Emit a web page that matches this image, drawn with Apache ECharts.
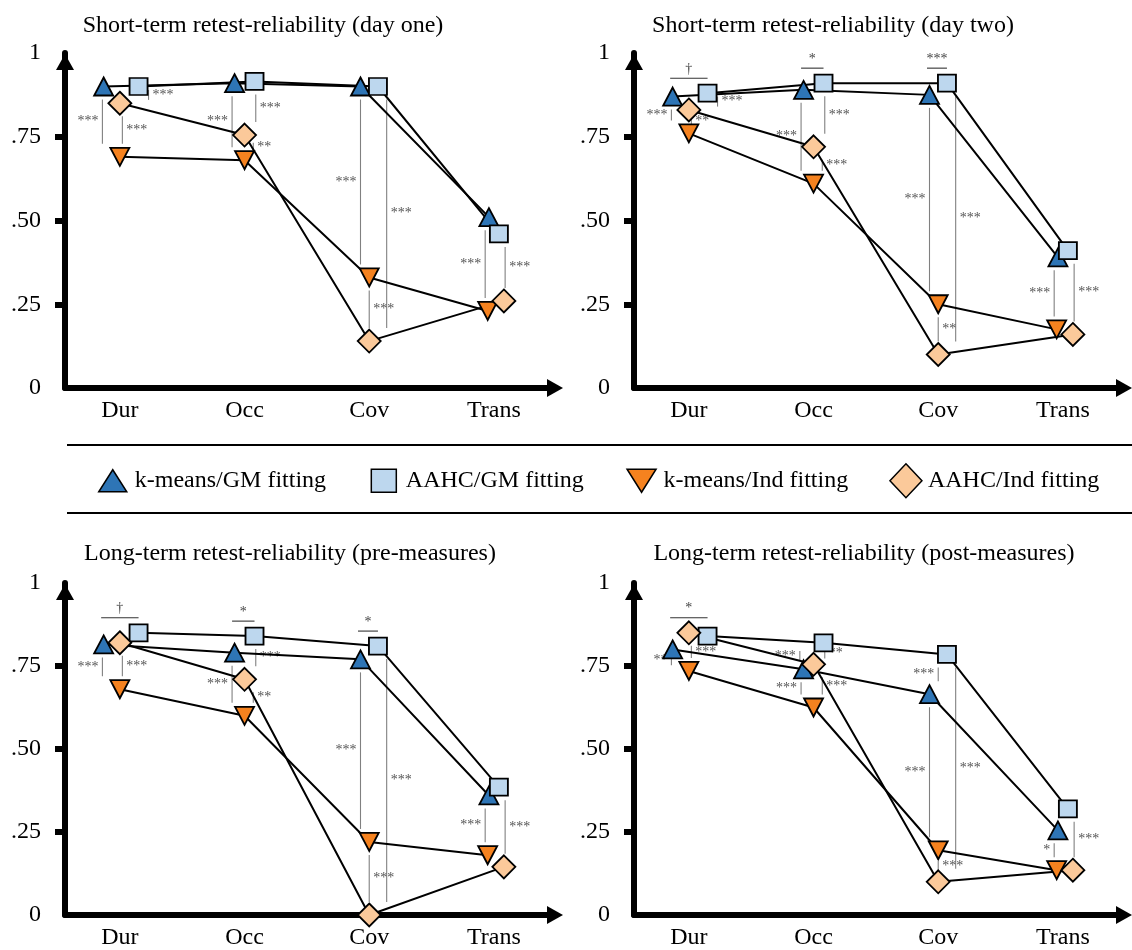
<!DOCTYPE html>
<html>
<head>
<meta charset="utf-8">
<script src="https://cdn.jsdelivr.net/npm/echarts@6/dist/echarts.min.js"></script>
<style>
  html, body { margin: 0; padding: 0; background: #fff; }
  #main { width: 1132px; height: 950px; }
</style>
</head>
<body>
<div id="main"></div>
<script>
// ---- data ----
const categories = ['Dur', 'Occ', 'Cov', 'Trans'];
const seriesNames = ['k-means/GM fitting', 'AAHC/GM fitting', 'k-means/Ind fitting', 'AAHC/Ind fitting'];
const yTickLabels = { 0: '0', 0.25: '.25', 0.5: '.50', 0.75: '.75', 1: '1' };
const panelTitles = [
  'Short-term retest-reliability (day one)',
  'Short-term retest-reliability (day two)',
  'Long-term retest-reliability (pre-measures)',
  'Long-term retest-reliability (post-measures)'
];

// short-term, day one
const dayOneKmGM = [0.90, 0.91, 0.90, 0.51];
const dayOneAaGM = [0.90, 0.915, 0.90, 0.46];
const dayOneKmInd = [0.69, 0.68, 0.33, 0.23];
const dayOneAaInd = [0.85, 0.755, 0.14, 0.26];
// short-term, day two
const dayTwoKmGM = [0.87, 0.89, 0.875, 0.39];
const dayTwoAaGM = [0.88, 0.91, 0.91, 0.41];
const dayTwoKmInd = [0.76, 0.61, 0.25, 0.175];
const dayTwoAaInd = [0.83, 0.72, 0.10, 0.16];
// long-term, pre-measures
const preKmGM = [0.815, 0.79, 0.77, 0.36];
const preAaGM = [0.85, 0.84, 0.81, 0.385];
const preKmInd = [0.68, 0.60, 0.22, 0.18];
const preAaInd = [0.82, 0.71, 0.0, 0.145];
// long-term, post-measures
const postKmGM = [0.80, 0.74, 0.665, 0.255];
const postAaGM = [0.84, 0.82, 0.785, 0.32];
const postKmInd = [0.735, 0.625, 0.195, 0.135];
const postAaInd = [0.85, 0.755, 0.10, 0.135];

// significance marks: [category, compared pair, label]
// kk = k-means GM vs Ind, aa = AAHC GM vs Ind, ii = k-means/Ind vs AAHC/Ind, gg/gv = k-means/GM vs AAHC/GM
const dayOneSig = [[0, 'kk', '***'], [0, 'ii', '***'], [0, 'aa', '***'], [1, 'kk', '***'], [1, 'aa', '***'], [1, 'ii', '**'],
  [2, 'kk', '***'], [2, 'aa', '***'], [2, 'ii', '***'], [3, 'kk', '***'], [3, 'aa', '***']];
const dayTwoSig = [[0, 'gg', '\u2020'], [0, 'kk', '***'], [0, 'ii', '**'], [0, 'aa', '***'], [1, 'gg', '*'], [1, 'kk', '***'], [1, 'aa', '***'], [1, 'ii', '***'],
  [2, 'gg', '***'], [2, 'kk', '***'], [2, 'aa', '***'], [2, 'ii', '**'], [3, 'kk', '***'], [3, 'aa', '***']];
const preSig = [[0, 'gg', '\u2020'], [0, 'kk', '***'], [0, 'ii', '***'], [1, 'gg', '*'], [1, 'kk', '***'], [1, 'aa', '***'], [1, 'ii', '**'],
  [2, 'gg', '*'], [2, 'kk', '***'], [2, 'aa', '***'], [2, 'ii', '***'], [3, 'kk', '***'], [3, 'aa', '***']];
const postSig = [[0, 'gg', '*'], [0, 'kk', '**'], [0, 'ii', '***'], [1, 'gv', '***'], [1, 'aa', '**'], [1, 'kk', '***'], [1, 'ii', '***'],
  [2, 'gv', '***'], [2, 'kk', '***'], [2, 'aa', '***'], [2, 'ii', '***'], [3, 'kk', '*'], [3, 'aa', '***']];

// ---- styling ----
const FONT = 'Liberation Serif';
const colors = ['#2e75b6', '#bdd7ee', '#f5821f', '#fbc99a'];
const symbols = ['triangle', 'rect', 'triangle', 'diamond'];
const symbolRotate = [0, 0, 180, 0];
const symbolSizes = [[19, 18], [18, 17], [19, 18], [23, 23]];
// horizontal nudge of each series inside a category (per category)
const dodge = [
  [-0.13, 0.15, 0, 0],
  [-0.08, 0.08, 0, 0],
  [-0.07, 0.07, 0, 0],
  [-0.04, 0.04, -0.05, 0.08]
];
const pairs = { kk: [0, 2], aa: [1, 3], ii: [2, 3], gg: [0, 1], gv: [0, 1] };
const pairPlace = {
  kk: { dx: [-0.14, -0.10, -0.07, -0.07], side: 'left' },
  aa: { dx: [0.23, 0.09, 0.14, 0.09], side: 'right' },
  ii: { dx: [0.02, 0.07, 0.0, 0.0], side: 'right' },
  gv: { dx: [-0.11, -0.11, 0.0, 0.0], side: 'left' }
};
const legendIcons = [
  'path://M0,0M34,34M17,6L31,28L3,28Z',
  'path://M0,0M34,34M4.5,5.5L29.5,5.5L29.5,28.5L4.5,28.5Z',
  'path://M0,0M34,34M2.5,5.5L31.5,5.5L17,28.5Z',
  'path://M0,0M34,34M17,0L33,17L17,34L1,17Z'
];

const panels = [
  { values: [dayOneKmGM, dayOneAaGM, dayOneKmInd, dayOneAaInd], sig: dayOneSig },
  { values: [dayTwoKmGM, dayTwoAaGM, dayTwoKmInd, dayTwoAaInd], sig: dayTwoSig },
  { values: [preKmGM, preAaGM, preKmInd, preAaInd], sig: preSig },
  { values: [postKmGM, postAaGM, postKmInd, postAaInd], sig: postSig }
];
const gridPos = [[65, 53], [634, 53], [65, 583], [634, 583]];
const titlePos = [[263, 14], [833, 14], [290, 542], [864, 542]];

function sigSeries(panel, pi) {
  const items = panel.sig.map(function (s) {
    const c = s[0], ab = pairs[s[1]];
    const allTop = Math.max.apply(null, panel.values.map(function (v) { return v[c]; }));
    return { cat: c, pair: s[1], label: s[2], va: panel.values[ab[0]][c], vb: panel.values[ab[1]][c], top: allTop };
  });
  return {
    type: 'custom',
    xAxisIndex: pi,
    yAxisIndex: pi,
    silent: true,
    clip: false,
    z: 1,
    data: items.map(function (it) { return [it.cat, it.va, it.vb, it.top]; }),
    renderItem: function (params, api) {
      const it = items[params.dataIndex];
      const cat = api.value(0), va = api.value(1), vb = api.value(2);
      const lineStyle = { stroke: '#808080', lineWidth: 1.1 };
      const font = '14px "' + FONT + '"';
      if (it.pair === 'gg') {
        const top = api.value(3);
        const p1 = api.coord([cat + dodge[cat][0] - 0.02, top]);
        const p2 = api.coord([cat + dodge[cat][1], top]);
        const y = p1[1] - 15;
        return {
          type: 'group',
          children: [
            { type: 'line', shape: { x1: p1[0], y1: y, x2: p2[0], y2: y }, style: { stroke: '#333', lineWidth: 1.1 } },
            { type: 'text', style: { text: it.label, x: (p1[0] + p2[0]) / 2, y: y - 2, align: 'center', verticalAlign: 'bottom', font: font, fill: '#444' } }
          ]
        };
      }
      const pl = pairPlace[it.pair];
      const x = cat + pl.dx[cat];
      const p1 = api.coord([x, va]);
      const p2 = api.coord([x, vb]);
      let y1 = Math.min(p1[1], p2[1]), y2 = Math.max(p1[1], p2[1]);
      const trim = Math.min(13, Math.max(0, (y2 - y1 - 10) / 2));
      y1 += trim; y2 -= trim;
      const left = pl.side === 'left';
      return {
        type: 'group',
        children: [
          { type: 'line', shape: { x1: p1[0], y1: y1, x2: p1[0], y2: y2 }, style: lineStyle },
          { type: 'text', style: { text: it.label, x: p1[0] + (left ? -4 : 4), y: (y1 + y2) / 2, align: left ? 'right' : 'left', verticalAlign: 'middle', font: font, fill: '#555' } }
        ]
      };
    }
  };
}

const grids = [], xAxes = [], yAxes = [], series = [], titles = [];
panels.forEach(function (panel, pi) {
  grids.push({ left: gridPos[pi][0], top: gridPos[pi][1], width: 490, height: 335 });
  titles.push({
    text: panelTitles[pi], left: titlePos[pi][0], top: titlePos[pi][1], textAlign: 'center', padding: 0,
    textStyle: { fontFamily: FONT, fontSize: 24, fontWeight: 'normal', color: '#000' }
  });
  xAxes.push({
    type: 'value', gridIndex: pi, min: -0.44, max: 3.49,
    splitLine: { show: false },
    axisTick: { show: false },
    axisLine: { show: true, onZero: true, lineStyle: { color: '#000', width: 6 }, symbol: ['none', 'triangle'], symbolSize: [18, 16] },
    axisLabel: {
      customValues: [0, 1, 2, 3], margin: 11,
      formatter: function (v) { return categories[Math.round(v)]; },
      fontFamily: FONT, fontSize: 24, color: '#000'
    }
  });
  yAxes.push({
    type: 'value', gridIndex: pi, min: 0, max: 1, interval: 0.25,
    splitLine: { show: false },
    axisTick: { show: true, customValues: [0.25, 0.5, 0.75], length: 10, lineStyle: { color: '#000', width: 6 } },
    axisLine: { show: true, onZero: false, lineStyle: { color: '#000', width: 6 }, symbol: ['none', 'triangle'], symbolSize: [18, 16], symbolOffset: [0, -9] },
    axisLabel: {
      margin: 24,
      formatter: function (v) { return yTickLabels[v]; },
      fontFamily: FONT, fontSize: 24, color: '#000'
    }
  });
  series.push(sigSeries(panel, pi));
  panel.values.forEach(function (vals, s) {
    series.push({
      type: 'line',
      name: seriesNames[s],
      xAxisIndex: pi,
      yAxisIndex: pi,
      data: vals.map(function (v, c) { return [c + dodge[c][s], v]; }),
      symbol: symbols[s],
      symbolSize: symbolSizes[s],
      symbolRotate: symbolRotate[s],
      clip: false,
      silent: true,
      z: 3,
      lineStyle: { color: '#000', width: 2 },
      itemStyle: { color: colors[s], borderColor: '#000', borderWidth: 1.8 }
    });
  });
});

const chart = echarts.init(document.getElementById('main'));
chart.setOption({
  animation: false,
  title: titles,
  grid: grids,
  xAxis: xAxes,
  yAxis: yAxes,
  legend: {
    data: seriesNames.map(function (n, i) { return { name: n, icon: legendIcons[i], itemStyle: { color: colors[i] } }; }),
    left: 90, top: 458, itemWidth: 34, itemHeight: 34, itemGap: 40,
    selectedMode: false,
    itemStyle: { borderColor: '#000', borderWidth: 1.5 },
    textStyle: { fontFamily: FONT, fontSize: 24, color: '#000' }
  },
  graphic: [
    { type: 'line', shape: { x1: 67, y1: 445, x2: 1132, y2: 445 }, style: { stroke: '#000', lineWidth: 2 } },
    { type: 'line', shape: { x1: 67, y1: 513, x2: 1132, y2: 513 }, style: { stroke: '#000', lineWidth: 2 } }
  ],
  series: series
});
</script>
</body>
</html>
